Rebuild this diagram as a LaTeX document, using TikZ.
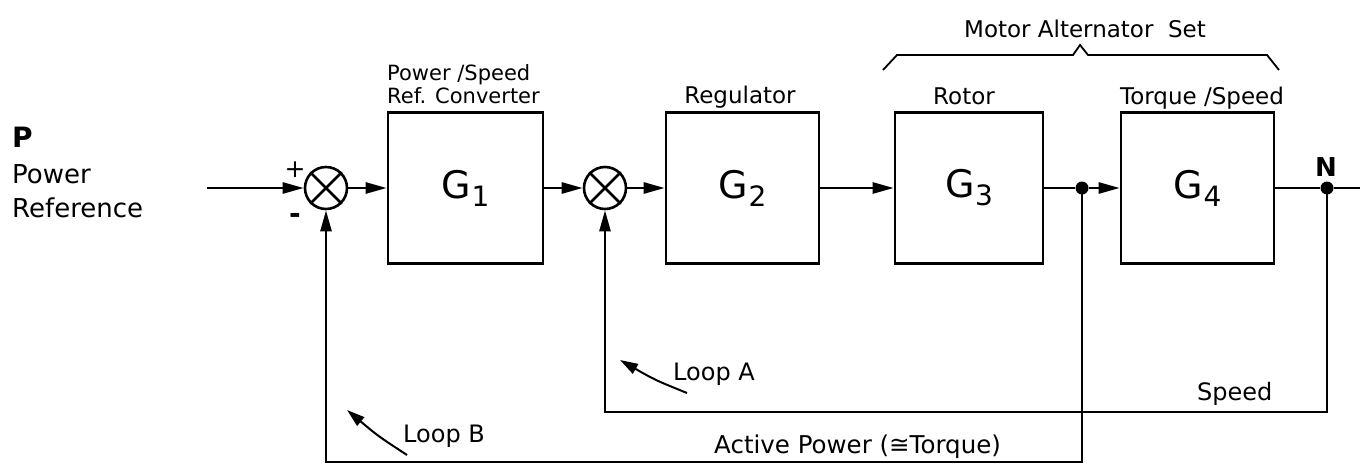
\documentclass[tikz,border=0pt]{standalone}
\usepackage{fontspec}
\setmainfont{DejaVu Sans}
\usetikzlibrary{arrows.meta}
\newcommand\myfs[1]{\fontsize{#1}{#1}\selectfont}
\newcommand\gsub[1]{G\kern0.5pt\raisebox{-8pt}{\myfs{28}#1}}
\begin{document}
\begin{tikzpicture}[x=1pt,y=-1pt,
  blockbox/.style={draw, line width=2.6pt, minimum width=153pt, minimum height=151pt, inner sep=0pt, font=\myfs{38}},
  sumnode/.style={draw, circle, minimum size=42pt, inner sep=0pt, line width=2.6pt},
  dotnode/.style={circle, fill, minimum size=13pt, inner sep=0pt},
  lbl/.style={inner sep=0pt, font=\myfs{23}},
  conn/.style={line width=2.6pt},
  arr/.style={conn, -{Triangle[length=21pt,width=11pt]}},
  looparr/.style={line width=2pt, -{Triangle[length=18pt,width=11pt]}},
  bracel/.style={line width=1.8pt}]
\useasboundingbox (0,0) rectangle (1367,471);

% blocks
\node[sumnode] (s1) at (326,188) {};
\node[sumnode] (s2) at (605,188) {};
\draw[conn] (s1.north east) -- (s1.south west) (s1.north west) -- (s1.south east);
\draw[conn] (s2.north east) -- (s2.south west) (s2.north west) -- (s2.south east);
\node[blockbox, minimum width=155pt] (G1) at (465.5,188) {\gsub{1}};
\node[blockbox] (G2) at (742.5,188) {\gsub{2}};
\node[blockbox, minimum width=148pt] (G3) at (969,188) {\gsub{3}};
\node[blockbox] (G4) at (1197.5,188) {\gsub{4}};
\node[dotnode] (j1) at (1082,188) {};
\node[dotnode] (jN) at (1327,188) {};
\coordinate (in) at (207,188);
\coordinate (out) at (1360,188);
\coordinate (spd) at (605,412);
\coordinate (apw) at (326,462);

% connectors
\draw[arr] (in) -- (s1);
\draw[arr] (s1) -- (G1);
\draw[arr] (G1) -- (s2);
\draw[arr] (s2) -- (G2);
\draw[arr] (G2) -- (G3);
\draw[conn] (G3) -- (j1);
\draw[arr] (j1) -- (G4);
\draw[conn] (G4) -- (jN) -- (out);
\draw[arr] (jN.center) |- (spd) -- (s2);
\draw[arr] (j1.center) |- (apw) -- (s1);

% loop arrows
\coordinate (la1) at (687,393);
\coordinate (la2) at (620,360);
\coordinate (lb1) at (407,455);
\coordinate (lb2) at (347,410);
\draw[looparr] (la1) .. controls (655,380) .. (la2);
\draw[looparr] (lb1) .. controls (378,436) .. (lb2);

% brace
\draw[bracel] (883,70) -- (897,55) -- (1073,55) -- (1080,45) -- (1088,55) -- (1267,55) -- (1279,70);

% texts
\node[lbl, anchor=base west, font=\bfseries\myfs{28}] (tP) at (12,147) {P};
\node[lbl, anchor=base west, font=\myfs{26}] (tPow) at (12,183) {Power};
\node[lbl, anchor=base west, font=\myfs{26}] (tRef) at (12,217) {Reference};
\node[lbl, font=\myfs{25}] (tplus) at (295,170) {+};
\node[lbl, font=\bfseries\myfs{28}] (tminus) at (295,218) {-};
\node[lbl, anchor=base west, font=\myfs{21}] (tPS) at (387,80) {Power /Speed};
\node[lbl, anchor=base west, font=\myfs{21}] (tRC) at (387,103) {Ref. Converter};
\node[lbl, anchor=base] (tReg) at (740,103) {Regulator};
\node[lbl, anchor=base] (tRot) at (964,104) {Rotor};
\node[lbl, anchor=base] (tTS) at (1202,104) {Torque /Speed};
\node[lbl, anchor=base] (tMA) at (1085,37) {Motor Alternator\ \ Set};
\node[lbl, anchor=base, font=\bfseries\myfs{26}] (tN) at (1326,176) {N};
\node[lbl, anchor=base west, font=\myfs{24}] (tLA) at (673,380) {Loop A};
\node[lbl, anchor=base west, font=\myfs{24}] (tLB) at (403,442) {Loop B};
\node[lbl, anchor=base west, font=\myfs{24}] (tSp) at (1197,400) {Speed};
\node[lbl, anchor=base west, font=\myfs{24.5}] (tAP) at (714,453) {Active Power (≅Torque)};
\end{tikzpicture}
\end{document}
